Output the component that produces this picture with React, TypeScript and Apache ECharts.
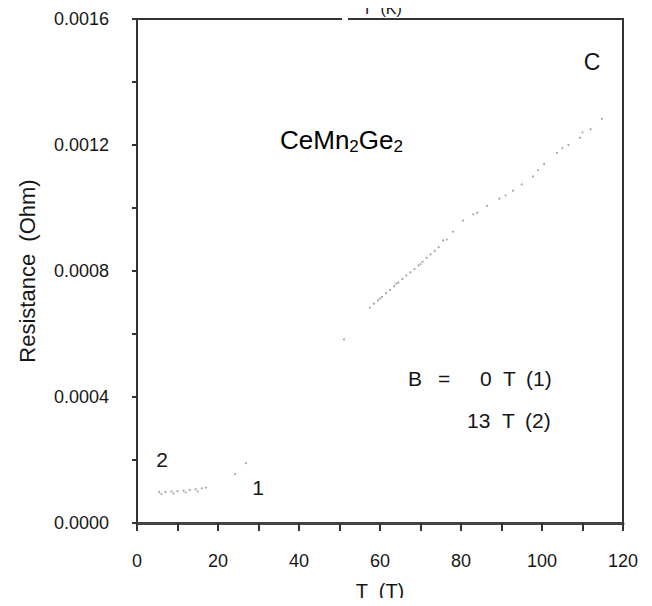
import React, { useEffect, useRef } from "react";
import * as echarts from "echarts";

// Temperature (K) and resistance (Ohm)
const curve1T = [5.5, 7, 8.5, 10, 11.5, 13, 14.5, 16, 17, 24.2, 26.9, 51.1, 57.5, 58.5, 59.5, 60.5, 61.5, 62.5, 63.5, 64.5, 65.5, 66.5, 67.5, 68.5, 69.5, 70.5, 71.5, 72.5, 73.5, 74.5, 75.6, 78, 80.5, 84, 86.4, 89.5, 92.8, 95, 97.8, 100.5, 103.7, 106.5, 109.4, 112, 114.8];
const curve1R = [0.000098, 0.000099, 0.0001, 0.000101, 0.000103, 0.000105, 0.000107, 0.00011, 0.000112, 0.000155, 0.00019, 0.000583, 0.000684, 0.000696, 0.000707, 0.000718, 0.00073, 0.00074, 0.000752, 0.000763, 0.000775, 0.000786, 0.000796, 0.000806, 0.000818, 0.000829, 0.000842, 0.000853, 0.000864, 0.000876, 0.000897, 0.000925, 0.00096, 0.000985, 0.001007, 0.00103, 0.001055, 0.001075, 0.0011, 0.00114, 0.001175, 0.0012, 0.001223, 0.00125, 0.001283];
const curve2T = [6, 9, 12, 15, 60, 64, 70, 76.5, 83, 91, 99, 105, 110];
const curve2R = [0.000092, 0.000094, 0.000097, 0.0001, 0.000712, 0.00076, 0.000822, 0.0009, 0.00098, 0.00104, 0.00112, 0.00119, 0.00124];

const xTicks = [0, 20, 40, 60, 80, 100, 120];
const yTicks = [0, 0.0004, 0.0008, 0.0012, 0.0016];

const FONT = "Liberation Sans, Arial, Helvetica, sans-serif";
const INK = "#161616";

const txt = (x: number, y: number, text: string, size: number, align = "left", valign = "middle") => ({
  type: "text",
  x,
  y,
  style: {
    text,
    font: `${size}px ${FONT}`,
    fill: INK,
    align,
    verticalAlign: valign,
    textAlign: align,
    textVerticalAlign: valign,
  },
});

export default function App() {
  const ref = useRef<HTMLDivElement>(null);
  useEffect(() => {
    if (!ref.current) return;
    const chart = echarts.init(ref.current, undefined, { renderer: "svg" });
    const toPairs = (t: number[], r: number[]) => t.map((v, i) => [v, r[i]]);
    chart.setOption({
      animation: false,
      backgroundColor: "#ffffff",
      grid: {
        left: 137,
        right: 29,
        top: 19,
        bottom: 83,
        show: true,
        borderColor: "#333",
        borderWidth: 2,
        containLabel: false,
        outerBoundsMode: "none",
      },
      xAxis: {
        type: "value",
        min: 0,
        max: 120,
        interval: 10,
        name: "T  (T)",
        nameLocation: "middle",
        nameGap: 58,
        nameTextStyle: { fontFamily: FONT, fontSize: 20, color: INK },
        axisLine: { show: true, lineStyle: { color: "#444", width: 3 } },
        axisTick: { show: true, inside: false, length: 8, lineStyle: { color: "#333", width: 2 } },
        axisLabel: {
          margin: 29,
          fontFamily: FONT,
          fontSize: 18,
          color: INK,
          formatter: (v: number) => (xTicks.includes(v) ? String(v) : ""),
        },
        splitLine: { show: false },
      },
      yAxis: {
        type: "value",
        min: 0,
        max: 0.0016,
        interval: 0.0002,
        name: "Resistance  (Ohm)",
        nameLocation: "middle",
        nameRotate: 90,
        nameGap: 99,
        nameTextStyle: { fontFamily: FONT, fontSize: 22, color: INK },
        axisLine: { show: true, lineStyle: { color: "#333", width: 2 } },
        axisTick: { show: true, inside: false, length: 5, lineStyle: { color: "#333", width: 2 } },
        axisLabel: {
          margin: 28,
          fontFamily: FONT,
          fontSize: 18,
          color: INK,
          formatter: (v: number) =>
            yTicks.some((t) => Math.abs(t - v) < 1e-9) ? v.toFixed(4) : "",
        },
        splitLine: { show: false },
      },
      series: [
        {
          name: "0 T (1)",
          type: "scatter",
          symbol: "circle",
          symbolSize: 2,
          itemStyle: { color: "#8a8a8a" },
          data: toPairs(curve1T, curve1R),
        },
        {
          name: "13 T (2)",
          type: "scatter",
          symbol: "circle",
          symbolSize: 2,
          itemStyle: { color: "#9a9a9a" },
          data: toPairs(curve2T, curve2R),
        },
      ],
      graphic: [
        { type: "rect", shape: { x: 342, y: 14, width: 6, height: 10 }, style: { fill: "#fff" }, z: 100 },
        txt(382, 0, "T  (K)", 16, "center", "top"),
        txt(592, 62, "C", 23, "center"),
        {
          type: "text",
          x: 280,
          y: 140,
          style: {
            text: "{a|CeMn}{s|2}{a|Ge}{s|2}",
            rich: {
              a: { fontFamily: FONT, fontSize: 26, color: INK },
              s: { fontFamily: FONT, fontSize: 17, color: INK, padding: [12, 0, 0, 0] },
            },
            verticalAlign: "middle",
            textVerticalAlign: "middle",
          },
        },
        txt(408, 378, "B", 21),
        txt(438, 378, "=", 21),
        txt(480, 378, "0", 21),
        txt(503, 378, "T", 21),
        txt(526, 378, "(1)", 21),
        txt(467, 420, "13", 21),
        txt(502, 420, "T", 21),
        txt(525, 420, "(2)", 21),
        txt(162, 459, "2", 21, "center"),
        txt(258, 487, "1", 21, "center"),
      ],
    });
    return () => chart.dispose();
  }, []);
  return <div ref={ref} style={{ width: 652, height: 606, margin: -8 }} />;
}
